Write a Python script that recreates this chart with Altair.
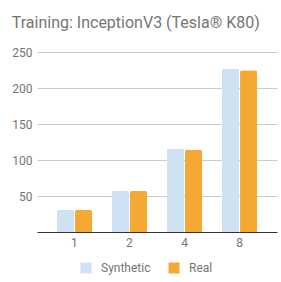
import altair as alt
import pandas as pd

gpus = ["1", "2", "4", "8"]
synthetic = [30.6, 57.2, 116.0, 226.9]
real = [30.6, 57.0, 114.2, 224.5]
series = ["Synthetic", "Real"]
colors = ["#cfe2f3", "#f5a933"]

rows = []
for g, s, r in zip(gpus, synthetic, real):
    rows.append({"gpus": g, "series": "Synthetic", "value": s})
    rows.append({"gpus": g, "series": "Real", "value": r})
df = pd.DataFrame(rows)

chart = alt.Chart(df).mark_bar(
    cornerRadiusTopLeft=2, cornerRadiusTopRight=2
).encode(
    x=alt.X("gpus:N", sort=gpus, title=None,
            scale=alt.Scale(paddingInner=0.36, paddingOuter=0.36),
            axis=alt.Axis(labelAngle=0, ticks=False, domainColor="#333333",
                          labelColor="#757575", labelFontSize=12,
                          labelPadding=5, labelFont="Roboto")),
    xOffset=alt.XOffset("series:N", sort=series,
                        scale=alt.Scale(paddingInner=0.05)),
    y=alt.Y("value:Q", title=None,
            scale=alt.Scale(domain=[0, 250], nice=False),
            axis=alt.Axis(values=[50, 100, 150, 200, 250], domain=False,
                          ticks=False, gridColor="#cccccc",
                          labelColor="#757575", labelFontSize=12,
                          labelPadding=5, labelFont="Roboto")),
    color=alt.Color("series:N", sort=series,
                    scale=alt.Scale(domain=series, range=colors),
                    legend=alt.Legend(title=None, orient="none",
                                      direction="horizontal",
                                      legendX=43, legendY=30 + 180,
                                      symbolType="square", symbolSize=121,
                                      symbolStrokeWidth=0,
                                      labelColor="#757575", labelFontSize=12,
                                      labelFont="Roboto", labelOffset=9,
                                      columnPadding=17)),
).properties(
    width=240, height=180,
    title=alt.TitleParams("Training: InceptionV3 (Tesla® K80)", anchor="start",
                          font="Roboto", fontSize=16, fontWeight="normal",
                          color="#757575", offset=15),
    padding={"left": 37, "top": 52, "right": 4, "bottom": 50},
    autosize=alt.AutoSizeParams(type="none"),
).configure_view(stroke=None)

chart.save("out.html", embed_options={"renderer": "svg", "actions": False})
